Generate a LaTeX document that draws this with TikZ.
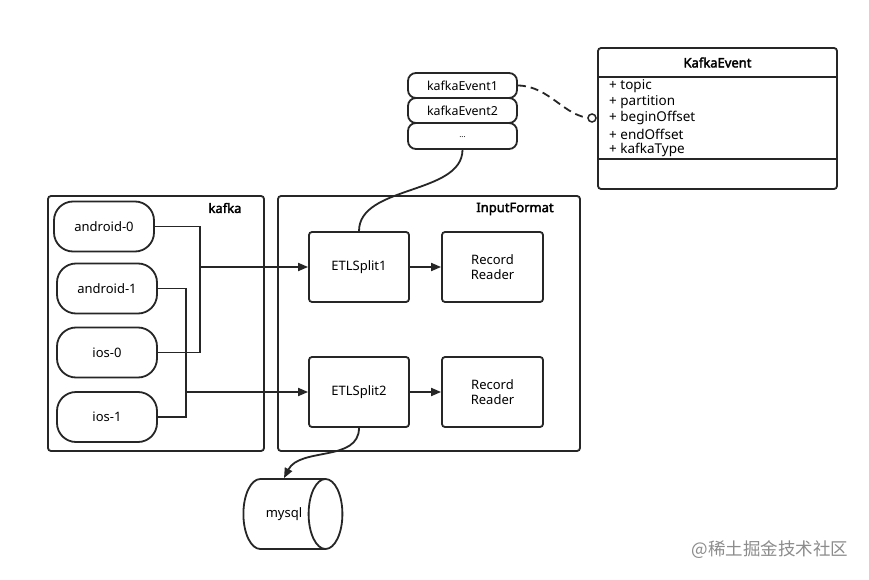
\documentclass[tikz,border=0pt]{standalone}
\usepackage{fontspec}
\setmainfont{Noto Sans}
\newfontfamily\boldsans{Noto Sans}[FakeBold=2.5]
\newfontfamily\cjkfont{Noto Sans CJK SC}
\usetikzlibrary{arrows.meta,shapes.geometric}
\begin{document}
\begin{tikzpicture}[x=1pt,y=-1pt,
  lw/.style={line width=1.8pt, draw=black!85},
  group/.style={lw, rectangle, rounded corners=3pt, inner sep=0pt},
  part/.style={lw, rectangle, rounded corners=19pt, minimum width=100pt, minimum height=50pt, font=\fontsize{13}{15}\selectfont},
  boxn/.style={lw, rectangle, rounded corners=3pt, minimum width=100pt, minimum height=70pt, align=center, font=\fontsize{13}{15.5}\selectfont},
  evt/.style={lw, rectangle, rounded corners=8pt, minimum width=109pt, minimum height=25pt, font=\fontsize{12.4}{14}\selectfont},
  conn/.style={line width=1.8pt, draw=black!85},
  tip/.style={-{Triangle[length=10pt,width=8pt]}},
  ttl/.style={font=\boldsans\fontsize{13}{15}\selectfont},
  attr/.style={font=\fontsize{13.5}{15}\selectfont, anchor=west, inner sep=0pt}
]
\path[use as bounding box, fill=white] (0,0) rectangle (869,580);

% groups
\node[group, minimum width=216pt, minimum height=255pt] (kafkabox) at (156,323.5) {};
\node[ttl] (kafkalbl) at (225,208) {kafka};
\node[group, minimum width=302pt, minimum height=255pt] (inputbox) at (429,323.5) {};
\node[ttl] (inputlbl) at (515,209) {InputFormat};

% partitions
\node[part] (a0) at (104,226.5) {android-0};
\node[part] (a1) at (107,288.5) {android-1};
\node[part] (i0) at (107,352.5) {ios-0};
\node[part] (i1) at (107,417) {ios-1};

% splits and readers
\node[boxn] (s1) at (359,267) {ETLSplit1};
\node[boxn, minimum width=101pt] (r1) at (492.5,267) {Record\\Reader};
\node[boxn] (s2) at (359,392) {ETLSplit2};
\node[boxn, minimum width=101pt] (r2) at (492.5,392) {Record\\Reader};

% events
\node[evt] (e1) at (462.5,85.5) {kafkaEvent1};
\node[evt] (e2) at (462.5,110.5) {kafkaEvent2};
\node[evt, minimum height=26pt] (e3) at (462.5,136) {\raisebox{-4pt}{\fontsize{8}{9}\selectfont...}};

% class box
\node[group, minimum width=239pt, minimum height=141pt] (cls) at (717.5,118.5) {};
\node[ttl] (clsttl) at (717.5,62.5) {KafkaEvent};
\coordinate (h1l) at (598,77); \coordinate (h1r) at (837,77);
\coordinate (h2l) at (598,159); \coordinate (h2r) at (837,159);
\draw[conn] (h1l) -- (h1r);
\draw[conn] (h2l) -- (h2r);
\node[attr] (t1) at (609,86) {+ topic};
\node[attr] (t2) at (609,102) {+ partition};
\node[attr] (t3) at (609,118) {+ beginOffset};
\node[attr] (t4) at (609,134) {+ endOffset};
\node[attr] (t5) at (609,150) {+ kafkaType};

% mysql
\node[cylinder, lw, minimum width=70pt, minimum height=99pt, aspect=2.6, inner sep=0pt, font=\fontsize{13}{15}\selectfont] (db) at (284,514) {mysql};

% kafka connectors
\coordinate (j1) at (200,226.5);
\coordinate (j2) at (200,352.5);
\coordinate (j3) at (200,267);
\draw[conn] (a0.east) -- (j1) -- (j2) -- (i0.east);
\draw[conn, tip] (j3) -- (s1.west);
\coordinate (k1) at (186,288.5);
\coordinate (k2) at (186,417);
\coordinate (k3) at (186,392);
\draw[conn] (a1.east) -- (k1) -- (k2) -- (i1.east);
\draw[conn, tip] (k3) -- (s2.west);

\draw[conn, tip] (s1.east) -- (r1.west);
\draw[conn, tip] (s2.east) -- (r2.west);

% curves
\draw[conn] (s1.north) .. controls (359,185) and (462,195) .. (e3.south);
\draw[conn, tip] (s2.south) .. controls (359,462) and (300,447) .. (db.north);

% dashed association
\coordinate (circ) at (592,118);
\draw[conn, dash pattern=on 8pt off 5pt] (e1.east) .. controls (550,86) and (565,118) .. (circ);
\node[circle, draw=black!85, line width=1.5pt, fill=white, minimum size=8pt, inner sep=0pt] (cc) at (circ) {};

% watermark
\node[text=black!45, font=\cjkfont\fontsize{17.5}{19}\selectfont] (wm) at (770,550) {@稀土掘金技术社区};
\end{tikzpicture}
\end{document}
